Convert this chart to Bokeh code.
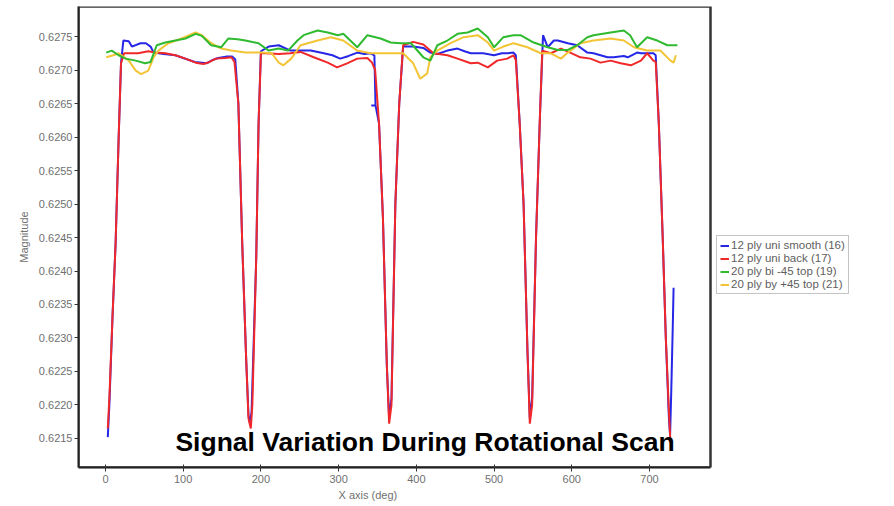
from bokeh.plotting import figure
from bokeh.models import (Range1d, FixedTicker, PrintfTickFormatter, Legend, LegendItem,
                          Label, BoxAnnotation, Title)
from bokeh.embed import file_html
from bokeh.resources import INLINE

# ---------------- data ----------------
x_ticks = [0, 100, 200, 300, 400, 500, 600, 700]
y_ticks = [0.6215, 0.6220, 0.6225, 0.6230, 0.6235, 0.6240, 0.6245, 0.6250,
           0.6255, 0.6260, 0.6265, 0.6270, 0.6275]

series_names = ["12 ply uni smooth (16)", "12 ply uni back (17)",
                "20 ply bi -45 top (19)", "20 ply by +45 top (21)"]

blue_x = [3, 5, 9, 13, 17, 20, 23, 30, 34, 45, 52, 58, 62, 75, 90, 100, 115, 130, 138, 145,
          155, 163, 167, 171, 176, 181, 184, 186, 188, 194, 197, 200, 210, 223, 238, 251, 264,
          281, 292, 302, 313, 324, 333, 341, 346, 347.5, 342, 347.5, 352, 357, 362, 365, 368,
          373, 378, 383, 396, 409, 418, 427, 440, 453, 462, 470, 486, 500, 510, 517, 525, 528,
          533, 538, 543, 546, 549, 554, 559, 563, 569, 577, 582, 595, 607, 620, 628, 637, 646,
          654, 667, 672, 684, 689, 697, 705, 708, 712, 717, 721, 725, 726.5, 728, 730, 731]
blue_y = [0.62152, 0.62200, 0.62330, 0.62440, 0.62600, 0.62710, 0.62744, 0.62743, 0.62735,
          0.62740, 0.62740, 0.62735, 0.62726, 0.62724, 0.62722, 0.62718, 0.62712, 0.62710,
          0.62715, 0.62718, 0.62720, 0.62720, 0.62716, 0.62650, 0.62440, 0.62270, 0.62185,
          0.62172, 0.62190, 0.62420, 0.62620, 0.62728, 0.62735, 0.62737, 0.62729, 0.62729,
          0.62729, 0.62725, 0.62722, 0.62717, 0.62721, 0.62726, 0.62724, 0.62725, 0.62722,
          0.62647, 0.62647, 0.62647, 0.62620, 0.62480, 0.62260, 0.62180, 0.62210, 0.62500,
          0.62650, 0.62735, 0.62735, 0.62733, 0.62726, 0.62724, 0.62729, 0.62732, 0.62728,
          0.62725, 0.62725, 0.62722, 0.62725, 0.62725, 0.62726, 0.62722, 0.62620, 0.62500,
          0.62280, 0.62180, 0.62210, 0.62450, 0.62630, 0.62752, 0.62734, 0.62744, 0.62744,
          0.62740, 0.62737, 0.62726, 0.62725, 0.62722, 0.62719, 0.62719, 0.62721, 0.62719,
          0.62726, 0.62725, 0.62725, 0.62725, 0.62722, 0.62620, 0.62450, 0.62300, 0.62180,
          0.62155, 0.62220, 0.62320, 0.62375]

red_x = [3, 5, 9, 13, 17, 20, 24, 42, 55, 64, 77, 90, 103, 116, 126, 134, 142, 154, 162, 166,
         171, 176, 181, 184, 187, 189, 194, 197, 200, 206, 223, 238, 251, 268, 286, 298, 311,
         324, 337, 343, 347, 352, 357, 362, 365, 368, 373, 378, 383, 396, 409, 422, 440, 453,
         470, 479, 492, 504, 517, 525, 528, 533, 538, 543, 546, 549, 554, 559, 562, 573, 586,
         598, 611, 624, 637, 650, 663, 676, 689, 697, 705, 708, 712, 717, 721, 725, 727]
red_y = [0.62165, 0.62210, 0.62330, 0.62440, 0.62600, 0.62710, 0.62725, 0.62725, 0.62728,
         0.62726, 0.62725, 0.62722, 0.62717, 0.62711, 0.62709, 0.62712, 0.62717, 0.62718,
         0.62719, 0.62712, 0.62650, 0.62440, 0.62270, 0.62180, 0.62165, 0.62200, 0.62420,
         0.62620, 0.62725, 0.62725, 0.62724, 0.62725, 0.62727, 0.62719, 0.62711, 0.62704,
         0.62710, 0.62717, 0.62718, 0.62711, 0.62700, 0.62620, 0.62480, 0.62260, 0.62172,
         0.62200, 0.62500, 0.62650, 0.62737, 0.62742, 0.62738, 0.62725, 0.62722, 0.62717,
         0.62710, 0.62711, 0.62704, 0.62714, 0.62717, 0.62722, 0.62715, 0.62620, 0.62500,
         0.62280, 0.62172, 0.62200, 0.62450, 0.62630, 0.62729, 0.62725, 0.62732, 0.62726,
         0.62719, 0.62717, 0.62711, 0.62714, 0.62710, 0.62707, 0.62714, 0.62725, 0.62714,
         0.62712, 0.62620, 0.62450, 0.62300, 0.62190, 0.62143]

green_x = [1, 8, 17, 26, 39, 51, 58, 66, 77, 90, 103, 116, 124, 136, 149, 158, 170, 180, 197,
           210, 223, 235, 247, 255, 273, 286, 299, 306, 324, 337, 354, 367, 380, 393, 409, 418,
           427, 440, 453, 466, 479, 492, 500, 512, 525, 534, 551, 569, 582, 595, 607, 620, 628,
           650, 667, 675, 684, 697, 710, 723, 736]
green_y = [0.62726, 0.62729, 0.62722, 0.62717, 0.62714, 0.62710, 0.62712, 0.62737, 0.62741,
           0.62744, 0.62747, 0.62754, 0.62751, 0.62737, 0.62734, 0.62747, 0.62746, 0.62744,
           0.62740, 0.62729, 0.62732, 0.62729, 0.62744, 0.62752, 0.62759, 0.62756, 0.62752,
           0.62754, 0.62734, 0.62752, 0.62747, 0.62741, 0.62740, 0.62740, 0.62719, 0.62714,
           0.62737, 0.62744, 0.62754, 0.62756, 0.62762, 0.62749, 0.62734, 0.62749, 0.62752,
           0.62752, 0.62741, 0.62734, 0.62730, 0.62730, 0.62737, 0.62749, 0.62752, 0.62756,
           0.62759, 0.62752, 0.62734, 0.62749, 0.62744, 0.62737, 0.62737]

yellow_x = [1, 10, 17, 30, 39, 46, 55, 62, 68, 81, 98, 116, 124, 136, 149, 162, 180, 201, 214,
            223, 229, 239, 251, 273, 290, 306, 324, 341, 367, 383, 396, 405, 414, 418, 427, 444,
            461, 479, 492, 500, 512, 525, 543, 560, 573, 586, 595, 611, 628, 650, 667, 680, 697,
            714, 727, 731, 734]
yellow_y = [0.62719, 0.62722, 0.62725, 0.62714, 0.62699, 0.62694, 0.62699, 0.62719, 0.62729,
            0.62740, 0.62747, 0.62756, 0.62752, 0.62740, 0.62732, 0.62729, 0.62726, 0.62726,
            0.62725, 0.62711, 0.62707, 0.62717, 0.62737, 0.62744, 0.62749, 0.62744, 0.62729,
            0.62725, 0.62725, 0.62725, 0.62710, 0.62687, 0.62695, 0.62719, 0.62729, 0.62740,
            0.62749, 0.62752, 0.62741, 0.62729, 0.62735, 0.62740, 0.62734, 0.62725, 0.62725,
            0.62717, 0.62726, 0.62740, 0.62744, 0.62747, 0.62744, 0.62734, 0.62729, 0.62729,
            0.62714, 0.62711, 0.62722]

colors = ["#2626e6", "#f0282a", "#2fba2f", "#f2c436"]

# ---------------- figure ----------------
X0, X1 = -34.7, 778.5          # visible plotting box
Y0, Y1 = 0.621067, 0.627948
X_END = 1015.25                # canvas area to the right holds the legend

p = figure(width=894, height=506, output_backend="svg", toolbar_location=None,
           x_range=Range1d(X0, X_END), y_range=Range1d(Y0, Y1),
           min_border_left=78, min_border_right=0, min_border_top=6, min_border_bottom=39,
           background_fill_color="white", border_fill_color="white")

p.xgrid.visible = False
p.ygrid.visible = False
p.outline_line_color = None

FONT = "Liberation Sans"
TICK_COLOR = "#707070"

xa = p.xaxis[0]
xa.ticker = FixedTicker(ticks=x_ticks)
xa.bounds = (X0, X1)
xa.minor_tick_line_color = None
xa.major_tick_out = 4
xa.major_tick_in = 3
xa.axis_line_width = 2
xa.axis_line_color = "#111111"
xa.major_tick_line_color = "#333333"
xa.major_label_text_font = FONT
xa.major_label_text_font_size = "11px"
xa.major_label_text_color = TICK_COLOR
xa.major_label_standoff = 3

ya = p.yaxis[0]
ya.ticker = FixedTicker(ticks=y_ticks)
ya.formatter = PrintfTickFormatter(format="%.4f")
ya.minor_tick_line_color = None
ya.major_tick_out = 4
ya.major_tick_in = 0
ya.axis_line_width = 2
ya.axis_line_color = "#111111"
ya.major_tick_line_color = "#333333"
ya.major_label_text_font = FONT
ya.major_label_text_font_size = "11px"
ya.major_label_text_color = TICK_COLOR
ya.major_label_standoff = 2
ya.axis_label = "Magnitude"
ya.axis_label_text_font = FONT
ya.axis_label_text_font_size = "11px"
ya.axis_label_text_font_style = "normal"
ya.axis_label_text_color = TICK_COLOR
ya.axis_label_standoff = 6

xlabel = Title(text="X axis (deg)", align="left", offset=260, text_font=FONT,
               text_font_size="11px", text_font_style="normal", text_color=TICK_COLOR,
               standoff=2)
p.add_layout(xlabel, "below")

frame_box = BoxAnnotation(left=X0, right=X1, bottom=Y0, top=Y1, fill_alpha=0,
                          line_color="#333333", line_alpha=1.0, line_width=2.5,
                          level="overlay")
p.add_layout(frame_box)

r_blue = p.line(blue_x, blue_y, line_color=colors[0], line_width=2)
r_red = p.line(red_x, red_y, line_color=colors[1], line_width=2)
r_yellow = p.line(yellow_x, yellow_y, line_color=colors[3], line_width=2)
r_green = p.line(green_x, green_y, line_color=colors[2], line_width=2)

legend = Legend(items=[LegendItem(label=series_names[0], renderers=[r_blue]),
                       LegendItem(label=series_names[1], renderers=[r_red]),
                       LegendItem(label=series_names[2], renderers=[r_green]),
                       LegendItem(label=series_names[3], renderers=[r_yellow])],
                location=(638, 173), orientation="vertical",
                label_text_font=FONT, label_text_font_size="11.5px", label_text_color="#606060",
                glyph_width=9, glyph_height=11, label_height=11, label_standoff=2,
                spacing=1, padding=3, margin=0,
                border_line_color="#8a8a8a", border_line_width=1,
                background_fill_color="white", background_fill_alpha=1.0)
p.add_layout(legend)

title = Label(x=90, y=0.621446, text="Signal Variation During Rotational Scan",
              text_font=FONT, text_font_size="26.5px", text_font_style="bold",
              text_color="black", text_align="left", text_baseline="alphabetic")
p.add_layout(title)

open("out.html", "w").write(file_html(p, INLINE))
